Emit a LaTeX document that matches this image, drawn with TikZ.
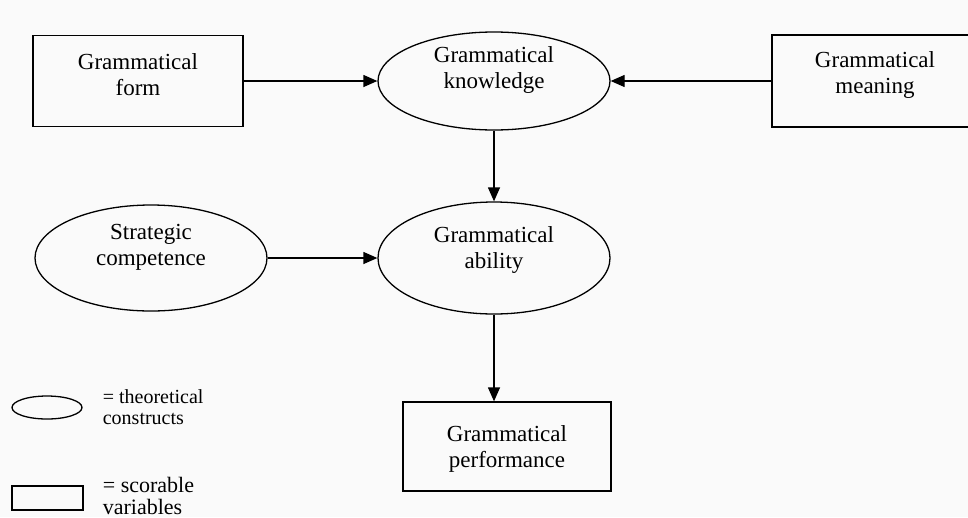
\documentclass[tikz,border=0pt]{standalone}
\usepackage{fontspec}
\setmainfont{Liberation Serif}
\usetikzlibrary{arrows.meta,positioning,shapes.geometric}

\tikzset{
    box/.style={draw, line width=1.3pt, rectangle, align=center,
        font=\fontsize{23}{26}\selectfont},
    construct/.style={draw, line width=1.3pt, ellipse, inner sep=0pt,
        align=center, font=\fontsize{23}{26}\selectfont},
    link/.style={line width=1.3pt, -{Triangle[length=14pt,width=12pt]}},
    keytext/.style={inner sep=0pt, align=left, anchor=west}
}

\begin{document}
\begin{tikzpicture}[x=1pt,y=-1pt]

    \fill[black!2] (0,0) rectangle (968,517);
    \useasboundingbox (0,0) rectangle (968,517);

    \node[box, minimum width=210pt, minimum height=91pt, text depth=12pt] (form) at (138,81) {Grammatical\\form};
    \node[construct, minimum width=232pt, minimum height=98pt, text depth=26pt] (know) at (494,81) {Grammatical\\knowledge};
    \node[box, minimum width=206pt, minimum height=92pt, text depth=16pt] (mean) at (875,81) {Grammatical\\meaning};

    \node[construct, minimum width=232pt, minimum height=106pt, text depth=26pt] (strat) at (151,258) {Strategic\\competence};
    \node[construct, minimum width=232pt, minimum height=112pt, text depth=20pt] (abil) at (494,258) {Grammatical\\ability};

    \node[box, minimum width=208pt, minimum height=89pt, text depth=0pt] (perf) at (507,446.5) {Grammatical\\performance};

    \draw[link] (form) -- (know);
    \draw[link] (mean) -- (know);
    \draw[link] (know) -- (abil);
    \draw[link] (strat) -- (abil);
    \draw[link] (abil.south) -- (abil.south |- perf.north);

    % legend
    \node[draw, line width=1.3pt, ellipse, inner sep=0pt, minimum width=70pt, minimum height=23pt] (keyC) at (47,407.5) {};
    \node[keytext, right=20pt of keyC, font=\fontsize{20}{21}\selectfont] (keyCtext) {= theoretical\\constructs};

    \node[draw, line width=1.3pt, rectangle, inner sep=0pt, minimum width=71pt, minimum height=24pt] (keyR) at (47.5,498) {};
    \node[keytext, right=19pt of keyR, yshift=2pt, font=\fontsize{22}{22}\selectfont] (keyRtext) {= scorable\\variables};

\end{tikzpicture}
\end{document}
